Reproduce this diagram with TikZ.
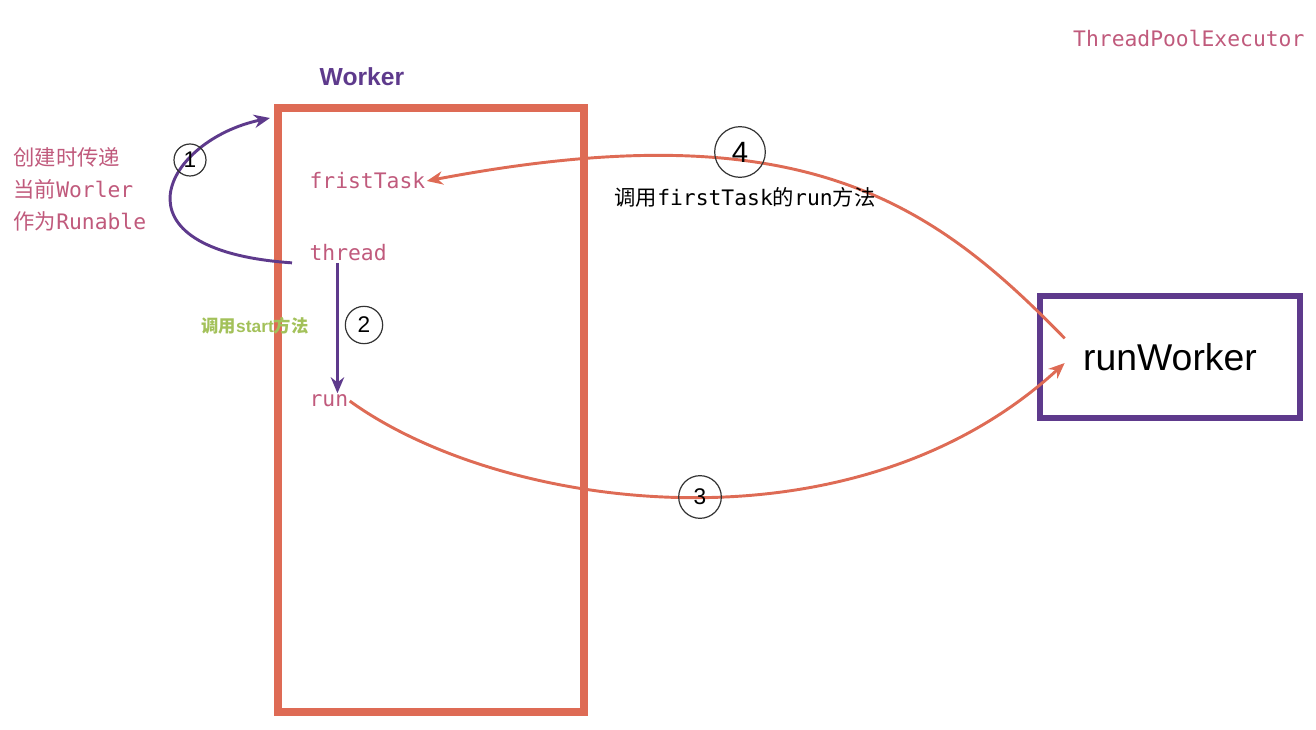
\documentclass[tikz,border=0pt]{standalone}
\usepackage{fontspec}
\setsansfont{Liberation Sans}
\newfontfamily\cjk{Noto Sans CJK SC}
\newfontfamily\codefont{DejaVu Sans Mono}
\usetikzlibrary{arrows.meta, positioning, calc}
\definecolor{boxred}{HTML}{DE6B55}
\definecolor{boxpurple}{HTML}{5E3A8C}
\definecolor{codepink}{HTML}{C05A7C}
\definecolor{notegreen}{HTML}{A3C15A}

\begin{document}
\begin{tikzpicture}[x=0.75pt, y=-0.75pt,
    code/.style={font=\codefont\fontsize{16}{24}\selectfont, text=codepink, inner sep=1pt},
    num/.style={draw=black!80, circle, line width=0.9pt, inner sep=0pt, font=\sffamily\fontsize{17}{17}\selectfont},
    flow/.style={line width=2.2pt, -{Stealth[length=12pt, width=10pt]}}]

    \useasboundingbox (0,0) rectangle (1316,730);

    % Boxes
    \node (worker) [draw=boxred, line width=6pt, minimum width=229.5pt, minimum height=453pt] at (431,410) {};
    \node (rw) [draw=boxpurple, line width=5pt, minimum width=195pt, minimum height=91.5pt,
        font=\sffamily\fontsize{28}{30}\selectfont] at (1170,357) {runWorker};

    % Titles
    \node (pool) [code, anchor=east] at (1306,38) {ThreadPoolExecutor};
    \node (wlabel) [font=\sffamily\bfseries\fontsize{18.5}{20}\selectfont, text=boxpurple] at (362,77) {Worker};

    % Fields of the worker
    \node (task) [code, anchor=west] at (308,181) {fristTask};
    \node (thread) [code, anchor=west] at (308,253) {thread};
    \node (run) [code, anchor=west] at (308,401) {run};

    % Step 1: pass the worker itself as Runnable
    \coordinate (entry) at (270,118);
    \draw[flow, boxpurple] ([xshift=-12pt]thread.south west) .. controls (105,250) and (165,140) .. (entry);
    \node (n1) [num, minimum size=24pt] at (190,160) {1};
    \node (note1) [code, align=left, anchor=north west] at (12,146)
        {{\cjk 创建时传递}\\{\cjk 当前}Worler\\{\cjk 作为}Runable};

    % Step 2: thread.start() calls run
    \draw[flow, boxpurple] ([xshift=-8pt]thread.south) -- ([xshift=-8pt]thread.south |- run.north);
    \node (n2) [num, minimum size=28pt] at (364,325) {2};
    \node (note2) [font=\cjk\bfseries\fontsize{13}{15}\selectfont, text=notegreen] at (255,326)
        {调用{\sffamily\bfseries start}方法};

    % Step 3: run calls runWorker
    \draw[flow, boxred] (run.east) .. controls (500,510) and (850,560) .. ([shift={(21pt,-4.5pt)}]rw.west);
    \node (n3) [num, minimum size=32pt] at (700,497) {3};

    % Step 4: runWorker calls firstTask.run
    \draw[flow, boxred] ([shift={(21pt,14pt)}]rw.west) .. controls (930,200) and (800,110) .. (task.east);
    \node (n4) [num, minimum size=38pt, font=\sffamily\fontsize{22}{22}\selectfont] at (740,152) {4};
    \node (note3) [code, text=black] at (745,197) {{\cjk 调用}firstTask{\cjk 的}run{\cjk 方法}};
\end{tikzpicture}
\end{document}
